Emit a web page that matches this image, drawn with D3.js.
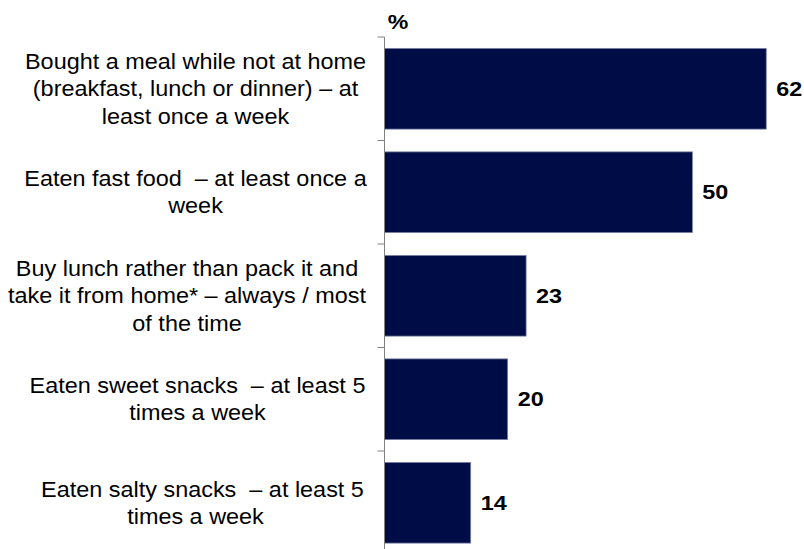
<!DOCTYPE html>
<html>
<head>
<meta charset="utf-8">
<script src="https://cdn.jsdelivr.net/npm/d3@7"></script>
<style>
  html, body { margin: 0; padding: 0; background: #fff; }
  svg { display: block; }
  text { white-space: pre; }
</style>
</head>
<body>
<svg id="chart" width="804" height="549"></svg>
<script>
const categories = [
  ["Bought a meal while not at home", "(breakfast, lunch or dinner) \u2013 at", "least once a week"],
  ["Eaten fast food  \u2013 at least once a", "week"],
  ["Buy lunch rather than pack it and", "take it from home* \u2013 always / most", "of the time"],
  ["Eaten sweet snacks  \u2013 at least 5", "times a week"],
  ["Eaten salty snacks  \u2013 at least 5", "times a week"]
];
const values = [62, 50, 23, 20, 14];
const unitLabel = "%";

const svg = d3.select("#chart");
const ids = d3.range(categories.length);

const y = d3.scaleBand().domain(ids).range([37, 554.5]).paddingInner(0.22).paddingOuter(0.11);
const x = d3.scaleLinear().domain([0, 70]).range([384.5, 815.5]);

const font = "'Liberation Sans', Arial, sans-serif";
const stretch = 1.09;

// bars
svg.selectAll("rect.bar").data(ids).join("rect")
  .attr("class", "bar")
  .attr("x", x(0))
  .attr("y", i => y(i))
  .attr("width", i => x(values[i]) - x(0))
  .attr("height", y.bandwidth())
  .attr("fill", "#000c45")
  .attr("stroke", "#7c84a8")
  .attr("stroke-width", 0.8);

// axis line and ticks at band boundaries
const step = y.step();
const bounds = ids.map(i => y(i) - y.paddingInner() * step / 2)
  .concat([y(ids.length - 1) + y.bandwidth() + y.paddingInner() * step / 2]);
svg.append("line")
  .attr("x1", x(0)).attr("x2", x(0))
  .attr("y1", bounds[0]).attr("y2", bounds[bounds.length - 1])
  .attr("stroke", "#808080").attr("stroke-width", 1);
svg.selectAll("line.tick").data(bounds).join("line")
  .attr("class", "tick")
  .attr("x1", x(0) - 7).attr("x2", x(0))
  .attr("y1", d => d).attr("y2", d => d)
  .attr("stroke", "#808080").attr("stroke-width", 1);

// category labels
const lineH = 27.3;
const centreX = i => (i === 2 ? 187 : i === 3 ? 197.5 : 195.5);
const lineShift = (i, k) => (i === 4 && k === 0 ? 7 : 0);
svg.selectAll("g.cat").data(ids).join("g")
  .attr("class", "cat")
  .attr("transform", i => `translate(${centreX(i)},${y(i) + y.bandwidth() / 2}) scale(${stretch},1)`)
  .each(function(i) {
    const lines = categories[i];
    const t = d3.select(this).append("text")
      .attr("text-anchor", "middle")
      .attr("font-family", font)
      .attr("font-size", 21.5)
      .attr("fill", "#000");
    lines.forEach((ln, k) => {
      t.append("tspan")
        .attr("x", lineShift(i, k) / stretch)
        .attr("y", (k - (lines.length - 1) / 2) * lineH)
        .attr("dy", "0.35em")
        .text(ln);
    });
  });

// value labels
svg.selectAll("text.val").data(ids).join("text")
  .attr("class", "val")
  .attr("transform", i => `translate(${x(values[i]) + 10},${y(i) + y.bandwidth() / 2}) scale(1.17,1)`)
  .attr("dy", "0.35em")
  .attr("font-family", font)
  .attr("font-size", 20)
  .attr("font-weight", "bold")
  .attr("fill", "#000")
  .text(i => values[i]);

// unit label
svg.append("text")
  .attr("transform", "translate(398,29) scale(1.1,1)")
  .attr("text-anchor", "middle")
  .attr("font-family", font)
  .attr("font-size", 21)
  .attr("font-weight", "bold")
  .attr("fill", "#000")
  .text(unitLabel);
</script>
</body>
</html>
